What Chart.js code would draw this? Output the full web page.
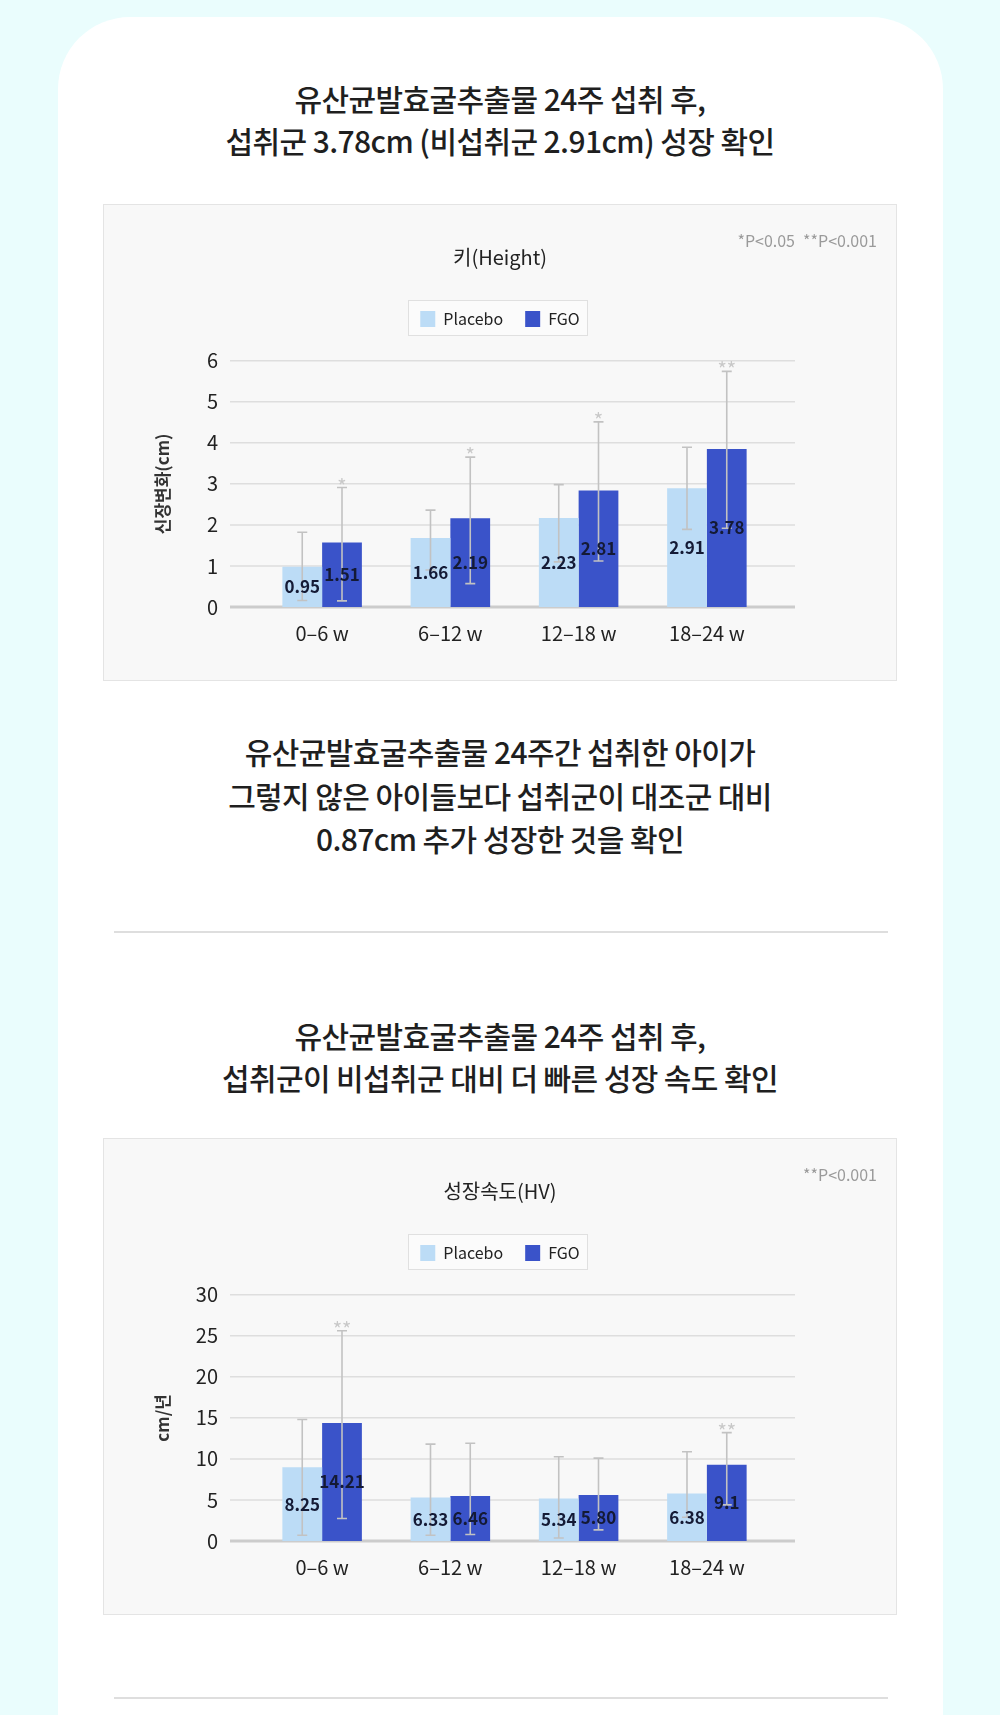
<!DOCTYPE html>
<html><head><meta charset="utf-8">
<script src="https://cdn.jsdelivr.net/npm/chart.js@4.4.1/dist/chart.umd.min.js"></script>
<style>
html,body{margin:0;padding:0;}
body{width:1000px;height:1715px;background:#eafdfd;position:relative;overflow:hidden;font-family:"Noto Sans CJK KR","Noto Sans",sans-serif;}
.card{position:absolute;left:58px;top:17px;width:885px;height:1720px;background:#fff;border-radius:72px 72px 0 0;}
.head{position:absolute;left:0;width:1000px;text-align:center;color:#1f1f1f;font-size:30px;font-weight:500;letter-spacing:-0.6px;}
.box{position:absolute;left:103px;width:794px;height:477px;}
.box .bg{position:absolute;left:0;top:0;width:794px;height:477px;background:#f8f8f8;border:1px solid #e4e4e4;box-sizing:border-box;}
.box canvas{position:absolute;left:0;top:0;}
.sep{position:absolute;left:114px;width:774px;height:2px;background:#dedede;}
</style></head>
<body>
<div class="card"></div>
<div class="head" style="top:77px;line-height:42px"><div>유산균발효굴추출물 24주 섭취 후,</div><div>섭취군 3.78cm (비섭취군 2.91cm) 성장 확인</div></div>
<div class="box" style="top:204px"><div class="bg"></div><canvas id="c1" width="794" height="477"></canvas></div>
<div class="head" style="top:730px;line-height:43.5px"><div>유산균발효굴추출물 24주간 섭취한 아이가</div><div>그렇지 않은 아이들보다 섭취군이 대조군 대비</div><div>0.87cm 추가 성장한 것을 확인</div></div>
<div class="sep" style="top:931px"></div>
<div class="head" style="top:1014px;line-height:42px"><div>유산균발효굴추출물 24주 섭취 후,</div><div>섭취군이 비섭취군 대비 더 빠른 성장 속도 확인</div></div>
<div class="box" style="top:1138px"><div class="bg"></div><canvas id="c2" width="794" height="477"></canvas></div>
<div class="sep" style="top:1697px"></div>
<script>
// ---------- data ----------
const categories = ['0–6 w', '6–12 w', '12–18 w', '18–24 w'];
const seriesNames = ['Placebo', 'FGO'];

// Chart 1: 키(Height), 신장변화(cm)
const heightPlacebo = [0.98, 1.68, 2.17, 2.89];
const heightFGO = [1.57, 2.16, 2.84, 3.85];
const heightPlaceboLabels = ['0.95', '1.66', '2.23', '2.91'];
const heightFGOLabels = ['1.51', '2.19', '2.81', '3.78'];
const heightPlaceboErrLow = [0.16, 0.90, 1.10, 1.89];
const heightPlaceboErrHigh = [1.82, 2.36, 2.98, 3.89];
const heightFGOErrLow = [0.15, 0.57, 1.12, 1.92];
const heightFGOErrHigh = [2.91, 3.65, 4.51, 5.74];
const heightFGOStars = ['*', '*', '*', '**'];
const heightTicks = [0, 1, 2, 3, 4, 5, 6];
const heightNotes = ['*P<0.05', '**P<0.001'];

// Chart 2: 성장속도(HV), cm/년
const hvPlacebo = [8.99, 5.31, 5.19, 5.80];
const hvFGO = [14.38, 5.48, 5.60, 9.28];
const hvPlaceboLabels = ['8.25', '6.33', '5.34', '6.38'];
const hvFGOLabels = ['14.21', '6.46', '5.80', '9.1'];
const hvPlaceboErrLow = [0.70, 0.70, 0.37, 2.90];
const hvPlaceboErrHigh = [14.8, 11.8, 10.26, 10.87];
const hvFGOErrLow = [2.74, 0.80, 1.35, 4.40];
const hvFGOErrHigh = [25.6, 11.9, 10.1, 13.2];
const hvFGOStars = ['**', '', '', '**'];
const hvTicks = [0, 5, 10, 15, 20, 25, 30];
const hvNotes = ['**P<0.001'];

// ---------- styling ----------
const FONT = '"Noto Sans CJK KR", "Noto Sans", sans-serif';
const COLORS = ['#bcdcf6', '#3a53c9'];
Chart.defaults.font.family = FONT;
Chart.defaults.color = '#222';

function makeChart(id, cfg) {
  const series = [
    {values: cfg.placebo, labels: cfg.placeboLabels, lo: cfg.placeboLo, hi: cfg.placeboHi, stars: null},
    {values: cfg.fgo, labels: cfg.fgoLabels, lo: cfg.fgoLo, hi: cfg.fgoHi, stars: cfg.stars}
  ];
  const decor = {
    id: 'decor_' + id,
    beforeDraw(chart) {
      const c = chart.ctx, lg = chart.legend;
      if (lg && lg.legendHitBoxes && lg.legendHitBoxes.length) {
        const hb = lg.legendHitBoxes, first = hb[0], last = hb[hb.length - 1];
        const l = first.left - 12, r = last.left + last.width + 8;
        const t = first.top - 11, b = first.top + first.height + 8;
        c.save();
        c.fillStyle = '#fbfbfb';
        c.fillRect(l, t, r - l, b - t);
        c.strokeStyle = '#e0e0e0';
        c.lineWidth = 1;
        c.strokeRect(Math.round(l) + 0.5, Math.round(t) + 0.5, Math.round(r - l), Math.round(b - t));
        c.restore();
      }
    },
    beforeDatasetsDraw(chart) {
      const c = chart.ctx, ys = chart.scales.y, a = chart.chartArea;
      c.save();
      ys.ticks.forEach(t => {
        const py = ys.getPixelForValue(t.value);
        const zero = t.value === cfg.ticks[0];
        c.strokeStyle = zero ? '#cccccc' : '#dedede';
        c.lineWidth = zero ? 3 : 1.5;
        c.beginPath();
        c.moveTo(a.left - 28, py);
        c.lineTo(a.right + 24, py);
        c.stroke();
      });
      c.restore();
    },
    afterDatasetsDraw(chart) {
      const c = chart.ctx, ys = chart.scales.y;
      c.save();
      series.forEach((s, di) => {
        const meta = chart.getDatasetMeta(di);
        meta.data.forEach((el, i) => {
          const x = el.x;
          const yh = ys.getPixelForValue(s.hi[i]);
          const yl = ys.getPixelForValue(s.lo[i]);
          c.strokeStyle = '#c2c2c2';
          c.lineWidth = 1.6;
          c.beginPath();
          c.moveTo(x, yh); c.lineTo(x, yl);
          c.moveTo(x - 5, yh); c.lineTo(x + 5, yh);
          c.moveTo(x - 5, yl); c.lineTo(x + 5, yl);
          c.stroke();
          if (s.stars && s.stars[i]) {
            c.fillStyle = '#c8c8c8';
            c.font = '20px ' + FONT;
            c.textAlign = 'center';
            c.textBaseline = 'alphabetic';
            c.fillText(s.stars[i], x, yh + 6);
          }
        });
      });
      series.forEach((s, di) => {
        const meta = chart.getDatasetMeta(di);
        meta.data.forEach((el, i) => {
          c.fillStyle = '#141a35';
          c.font = 'bold 17px ' + FONT;
          c.textAlign = 'center';
          c.textBaseline = 'middle';
          c.fillText(s.labels[i], el.x, (el.y + el.base) / 2);
        });
      });
      c.restore();
    },
    afterDraw(chart) {
      const c = chart.ctx;
      c.save();
      c.fillStyle = '#9a9a9a';
      c.font = '16px ' + FONT;
      c.textAlign = 'right';
      c.textBaseline = 'middle';
      const rights = cfg.notes.length === 2 ? [692, 774] : [774];
      cfg.notes.forEach((n, i) => c.fillText(n, rights[i], 37));
      c.restore();
    }
  };
  return new Chart(document.getElementById(id), {
    type: 'bar',
    data: {
      labels: categories,
      datasets: series.map((s, i) => ({
        label: seriesNames[i], data: s.values, backgroundColor: COLORS[i],
        borderWidth: 0, categoryPercentage: 0.62, barPercentage: 1.0
      }))
    },
    options: {
      responsive: false, animation: false,
      layout: {padding: {left: 45, right: 45, top: 20, bottom: 34}},
      plugins: {
        title: {display: true, text: cfg.title, color: '#222',
          font: {size: 20, weight: 'normal'}, padding: {top: 21, bottom: 20}},
        legend: {display: true, position: 'top',
          labels: {boxWidth: 15, boxHeight: 16, padding: 22, color: '#222', font: {size: 16}}},
        tooltip: {enabled: false}
      },
      scales: {
        x: {
          grid: {display: false, drawTicks: false}, border: {display: false},
          ticks: {padding: 14, color: '#222', font: {size: 20}},
          afterFit(s) { s.height = 40; }
        },
        xTop: {
          position: 'top', display: true,
          grid: {display: false, drawTicks: false}, border: {display: false},
          ticks: {display: false},
          afterFit(s) { s.height = 23.7; }
        },
        y: {
          min: cfg.ticks[0], max: cfg.ticks[cfg.ticks.length - 1],
          grid: {display: false, drawTicks: false}, border: {display: false},
          ticks: {stepSize: cfg.ticks[1] - cfg.ticks[0], padding: 40, color: '#222', font: {size: 20}},
          title: {display: true, text: cfg.yTitle, color: '#333', font: {size: 17, weight: 'bold'}, padding: {top: 4, bottom: 4}},
          afterFit(s) { s.width = 110; }
        },
        y2: {
          position: 'right', display: true,
          grid: {display: false, drawTicks: false}, border: {display: false},
          ticks: {display: false},
          afterFit(s) { s.width = 81; }
        }
      }
    },
    plugins: [decor]
  });
}

makeChart('c1', {
  title: '키(Height)', yTitle: '신장변화(cm)', ticks: heightTicks, notes: heightNotes,
  placebo: heightPlacebo, fgo: heightFGO,
  placeboLabels: heightPlaceboLabels, fgoLabels: heightFGOLabels,
  placeboLo: heightPlaceboErrLow, placeboHi: heightPlaceboErrHigh,
  fgoLo: heightFGOErrLow, fgoHi: heightFGOErrHigh, stars: heightFGOStars
});
makeChart('c2', {
  title: '성장속도(HV)', yTitle: 'cm/년', ticks: hvTicks, notes: hvNotes,
  placebo: hvPlacebo, fgo: hvFGO,
  placeboLabels: hvPlaceboLabels, fgoLabels: hvFGOLabels,
  placeboLo: hvPlaceboErrLow, placeboHi: hvPlaceboErrHigh,
  fgoLo: hvFGOErrLow, fgoHi: hvFGOErrHigh, stars: hvFGOStars
});
</script>
</body></html>
